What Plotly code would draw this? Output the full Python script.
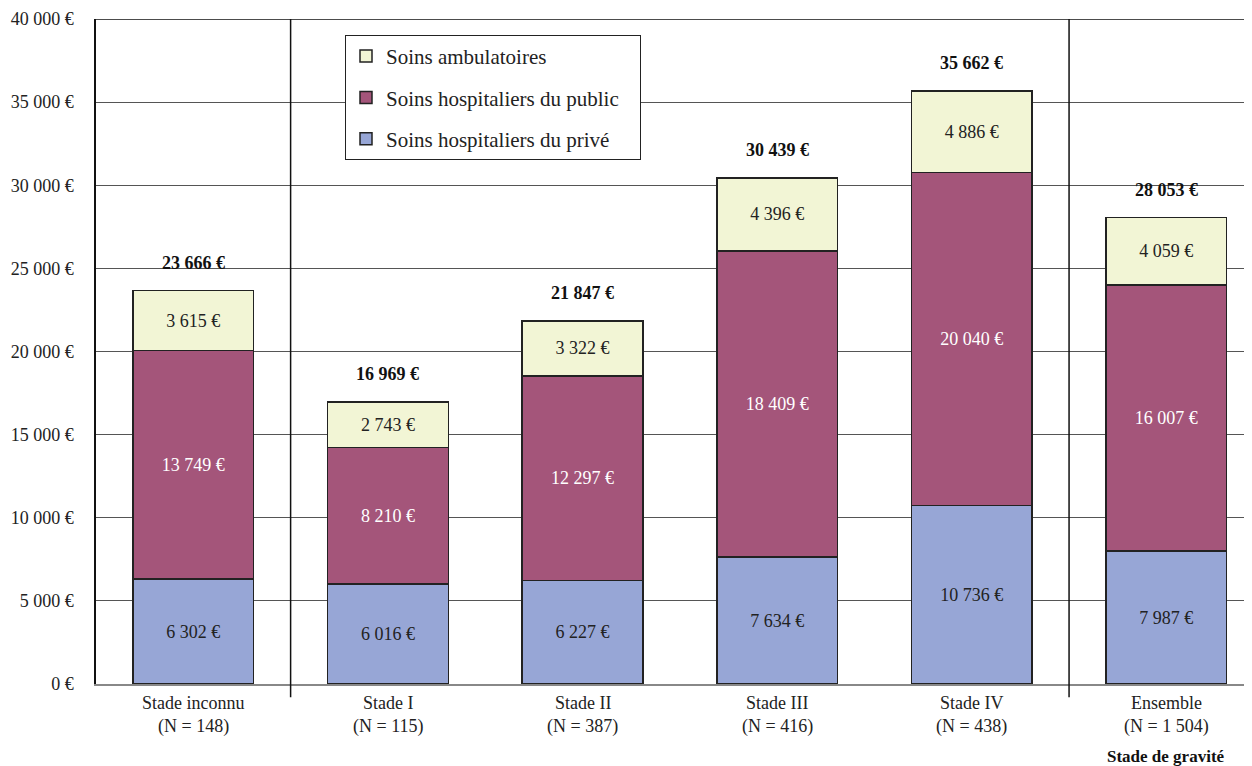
import plotly.graph_objects as go

categories = ["Stade inconnu", "Stade I", "Stade II", "Stade III", "Stade IV", "Ensemble"]
counts = ["(N = 148)", "(N = 115)", "(N = 387)", "(N = 416)", "(N = 438)", "(N = 1 504)"]
prive = [6302, 6016, 6227, 7634, 10736, 7987]
public = [13749, 8210, 12297, 18409, 20040, 16007]
ambulatoire = [3615, 2743, 3322, 4396, 4886, 4059]
totals = [23666, 16969, 21847, 30439, 35662, 28053]

def fmt(v):
    return f"{v:,}".replace(",", " ") + " €"

FONT = "'Liberation Serif', 'Times New Roman', 'DejaVu Serif', serif"
PAD = "\u00a0\u00a0\u00a0"
xs = list(range(len(categories)))

fig = go.Figure()
series = [
    ("Soins hospitaliers du privé", prive, "#97A6D6", "#222222", 3),
    ("Soins hospitaliers du public", public, "#A4557A", "#FFFFFF", 2),
    ("Soins ambulatoires", ambulatoire, "#F2F5D5", "#222222", 1),
]
for i, (name, vals, col, tcol, rank) in enumerate(series):
    fig.add_trace(go.Bar(
        x=xs, y=vals, name=name + PAD, width=0.62,
        marker=dict(color=col, line=dict(color="#222222", width=1.5)),
        text=[fmt(v) for v in vals], textposition="inside",
        insidetextanchor="middle", textangle=0,
        textfont=dict(family=FONT, size=18, color=tcol),
        constraintext="none", legendgroup=f"g{rank}", legendrank=rank,
        hoverinfo="skip",
    ))

for x, t in zip(xs, totals):
    fig.add_annotation(x=x, y=t, xref="x", yref="y", text=f"<b>{fmt(t)}</b>",
                       showarrow=False, yanchor="middle", yshift=28,
                       font=dict(family=FONT, size=18, color="#111111"))

fig.update_layout(
    width=1244, height=758,
    margin=dict(l=88, r=0, t=11, b=82),
    paper_bgcolor="white", plot_bgcolor="white",
    barmode="stack", bargap=0.38,
    separators=", ",
    font=dict(family=FONT, size=18, color="#222222"),
    showlegend=True,
    legend=dict(
        x=0.2154, y=0.976, xanchor="left", yanchor="top",
        traceorder="grouped", tracegroupgap=11,
        bordercolor="#222222", borderwidth=1, bgcolor="white",
        font=dict(family=FONT, size=21, color="#222222"),
        itemwidth=30,
    ),
)

fig.update_yaxes(
    range=[0, 40000], tick0=0, dtick=5000, tickformat=",d", ticksuffix=" €",
    showgrid=True, gridcolor="#555555", gridwidth=1,
    showline=True, linecolor="#111111", linewidth=1.5,
    ticks="", ticklabelstandoff=17, zeroline=False,
    tickfont=dict(family=FONT, size=18, color="#222222"),
)
fig.update_xaxes(
    range=[-0.5, 5.44], tickvals=xs, ticktext=[""] * len(xs),
    showline=True, linecolor="#888888", linewidth=2,
    showgrid=False, zeroline=False, ticks="",
)

# top border line
fig.add_shape(type="line", xref="paper", yref="y", x0=0, x1=1, y0=40000, y1=40000,
              line=dict(color="#111111", width=1.5))
# group separators
for sx in [0.5, 4.5]:
    fig.add_shape(type="line", xref="x", yref="paper", x0=sx, x1=sx, y0=-0.02, y1=1,
                  line=dict(color="#111111", width=1.5))

for x, c, n in zip(xs, categories, counts):
    fig.add_annotation(x=x, y=0, xref="x", yref="paper", text=c, showarrow=False,
                       yanchor="middle", yshift=-19, font=dict(family=FONT, size=18, color="#222222"))
    fig.add_annotation(x=x, y=0, xref="x", yref="paper", text=n, showarrow=False,
                       yanchor="middle", yshift=-42, font=dict(family=FONT, size=18, color="#222222"))

fig.add_annotation(x=5, y=0, xref="x", yref="paper", text="<b>Stade de gravité</b>",
                   showarrow=False, yanchor="middle", yshift=-72,
                   font=dict(family=FONT, size=17, color="#111111"))

fig.write_html("out.html")
